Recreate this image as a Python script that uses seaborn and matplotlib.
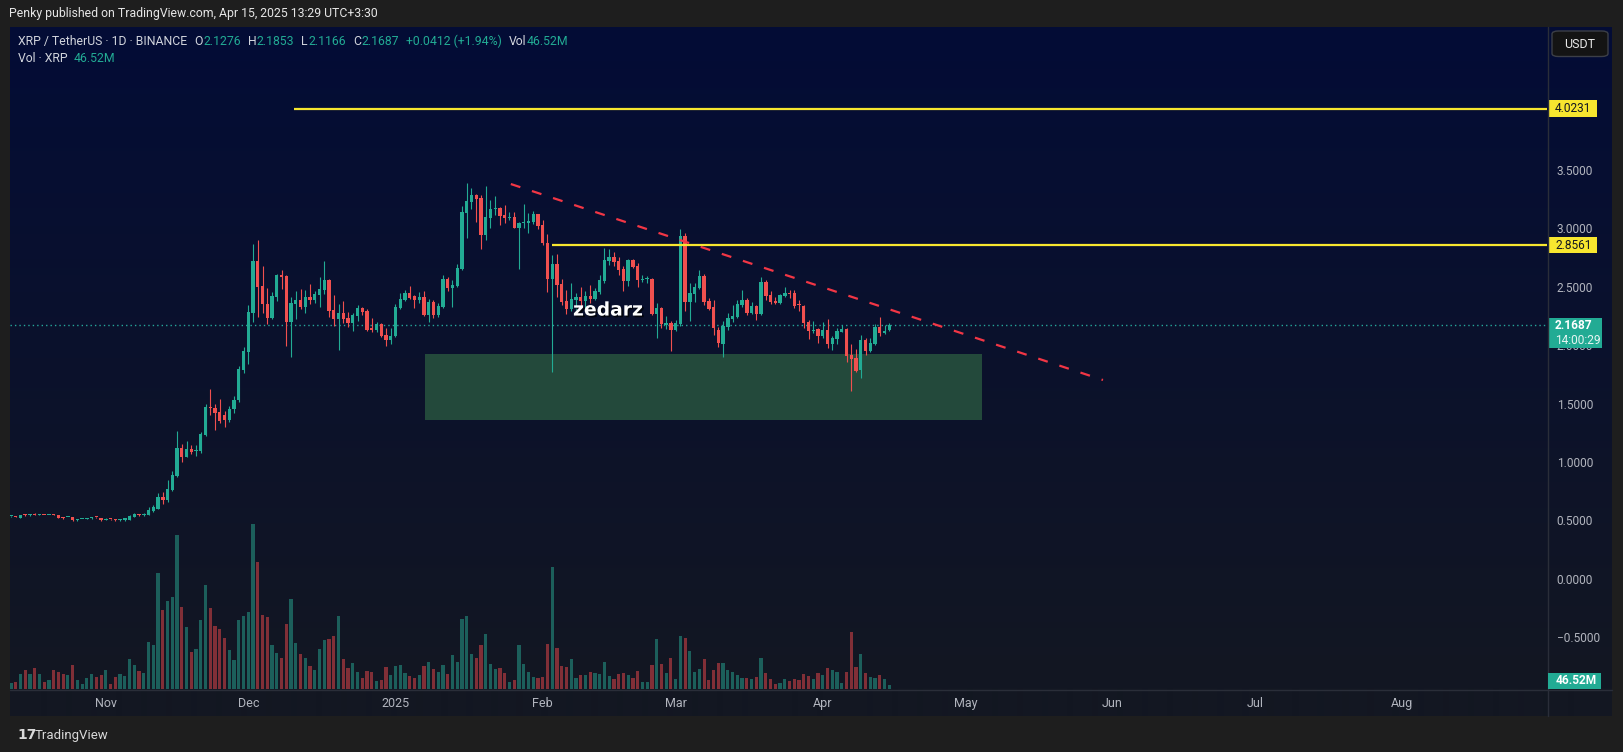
import numpy as np
import pandas as pd
import matplotlib
matplotlib.use("Agg")
import matplotlib.pyplot as plt
import matplotlib.dates as mdates
import matplotlib.transforms as mtransforms
from matplotlib.patches import Rectangle, FancyBboxPatch
from matplotlib.lines import Line2D
import matplotlib.patheffects as pe
import seaborn as sns

# ---------------- data ----------------
first_day = "2024-10-12"
last_day = "2025-04-15"

opens = [
    .535, .537, .522, .548, .543, .549, .545, .547, .545, .548,
    .546, .528, .527, .528, .500, .509, .514, .516, .528, .522,
    .506, .510, .510, .500, .500, .505, .528, .552, .545, .548,
    .580, .600, .702, .674, .759, .879, 1.119, 1.045, 1.110, 1.090,
    1.094, 1.230, 1.470, 1.460, 1.427, 1.400, 1.360, 1.450, 1.530, 1.787,
    1.944, 2.278, 2.720, 2.506, 2.352, 2.235, 2.415, 2.600, 2.591, 2.200,
    2.352, 2.386, 2.329, 2.412, 2.386, 2.429, 2.472, 2.557, 2.300, 2.224,
    2.275, 2.232, 2.190, 2.249, 2.318, 2.292, 2.146, 2.129, 2.180, 2.087,
    2.044, 2.078, 2.318, 2.386, 2.446, 2.420, 2.386, 2.412, 2.258, 2.369,
    2.258, 2.326, 2.566, 2.489, 2.506, 2.652, 3.130, 3.225, 3.285, 3.259,
    2.943, 3.090, 3.165, 3.173, 3.114, 3.090, 3.097, 3.002, 3.045, 3.045,
    3.054, 3.122, 3.030, 2.874, 2.566, 2.694, 2.523, 2.377, 2.309, 2.386,
    2.411, 2.377, 2.417, 2.394, 2.454, 2.551, 2.720, 2.754, 2.720, 2.651,
    2.548, 2.729, 2.677, 2.560, 2.565, 2.566, 2.266, 2.318, 2.176, 2.189,
    2.129, 2.180, 2.934, 2.372, 2.437, 2.489, 2.591, 2.377, 2.330, 2.129,
    2.009, 2.152, 2.223, 2.240, 2.343, 2.386, 2.275, 2.335, 2.266, 2.540,
    2.429, 2.378, 2.360, 2.420, 2.446, 2.446, 2.346, 2.335, 2.197, 2.120,
    2.138, 2.078, 2.129, 2.009, 2.052, 2.112, 2.138, 1.915, 1.889, 1.787,
    2.044, 1.950, 2.009, 2.155, 2.104, 2.1276,
]
highs = [
    .540, .540, .548, .555, .553, .560, .553, .549, .548, .553,
    .547, .529, .530, .529, .512, .513, .518, .530, .529, .523,
    .516, .511, .512, .510, .520, .545, .566, .553, .561, .614,
    .630, .733, .742, .845, .922, 1.265, 1.152, 1.180, 1.145, 1.145,
    1.256, 1.500, 1.624, 1.500, 1.540, 1.440, 1.480, 1.560, 1.820, 1.980,
    2.343, 2.866, 2.900, 2.677, 2.486, 2.454, 2.608, 2.643, 2.600, 2.412,
    2.463, 2.480, 2.469, 2.523, 2.463, 2.583, 2.720, 2.566, 2.429, 2.352,
    2.378, 2.284, 2.275, 2.343, 2.327, 2.309, 2.232, 2.198, 2.189, 2.146,
    2.146, 2.352, 2.446, 2.472, 2.506, 2.429, 2.454, 2.463, 2.395, 2.386,
    2.360, 2.600, 2.583, 2.557, 2.694, 3.190, 3.388, 3.345, 3.293, 3.285,
    3.362, 3.242, 3.276, 3.182, 3.199, 3.139, 3.139, 3.054, 3.208, 3.131,
    3.148, 3.122, 3.070, 2.955, 2.770, 2.780, 2.566, 2.470, 2.528, 2.450,
    2.500, 2.460, 2.514, 2.490, 2.600, 2.828, 2.820, 2.800, 2.757, 2.677,
    2.737, 2.740, 2.706, 2.600, 2.590, 2.572, 2.358, 2.330, 2.249, 2.206,
    2.215, 2.994, 2.963, 2.528, 2.530, 2.643, 2.609, 2.400, 2.386, 2.157,
    2.206, 2.275, 2.343, 2.386, 2.472, 2.403, 2.369, 2.340, 2.583, 2.557,
    2.463, 2.412, 2.437, 2.497, 2.472, 2.472, 2.386, 2.340, 2.215, 2.206,
    2.146, 2.197, 2.223, 2.078, 2.146, 2.172, 2.146, 2.009, 1.966, 2.087,
    2.060, 2.060, 2.180, 2.240, 2.172, 2.1853,
]
lows = [
    .532, .525, .520, .535, .540, .543, .543, .543, .543, .543,
    .520, .513, .525, .490, .497, .507, .512, .514, .523, .498,
    .504, .506, .490, .498, .498, .503, .526, .536, .540, .545,
    .574, .595, .640, .660, .750, .870, 1.002, 1.040, 1.067, 1.053,
    1.080, 1.225, 1.400, 1.270, 1.330, 1.300, 1.340, 1.420, 1.510, 1.765,
    1.838, 2.198, 2.243, 2.278, 2.178, 2.221, 2.380, 2.480, 1.995, 1.900,
    2.227, 2.306, 2.278, 2.352, 2.363, 2.329, 2.440, 2.243, 2.164, 1.958,
    2.190, 2.155, 2.121, 2.207, 2.258, 2.121, 2.112, 2.112, 2.069, 1.992,
    2.009, 2.070, 2.310, 2.380, 2.395, 2.318, 2.361, 2.249, 2.198, 2.232,
    2.240, 2.318, 2.463, 2.326, 2.500, 2.643, 2.917, 3.165, 3.054, 2.823,
    2.900, 3.002, 3.114, 3.028, 3.045, 3.071, 3.000, 2.652, 3.000, 2.960,
    3.036, 2.994, 2.860, 2.455, 1.770, 2.415, 2.343, 2.270, 2.290, 2.300,
    2.330, 2.300, 2.357, 2.390, 2.440, 2.528, 2.685, 2.680, 2.600, 2.466,
    2.505, 2.660, 2.500, 2.540, 2.530, 2.257, 2.064, 2.143, 2.137, 1.952,
    2.120, 2.163, 2.290, 2.210, 2.372, 2.480, 2.343, 2.300, 2.084, 1.987,
    1.900, 2.130, 2.197, 2.232, 2.330, 2.258, 2.266, 2.215, 2.258, 2.386,
    2.350, 2.350, 2.350, 2.410, 2.403, 2.318, 2.290, 2.146, 2.052, 2.103,
    2.018, 2.060, 1.975, 1.958, 2.009, 2.110, 1.855, 1.610, 1.769, 1.720,
    1.915, 1.941, 2.000, 2.078, 2.095, 2.1166,
]
closes = [
    .537, .530, .545, .543, .548, .545, .548, .545, .546, .545,
    .522, .522, .529, .500, .510, .511, .516, .528, .525, .500,
    .511, .508, .503, .505, .517, .540, .552, .545, .552, .590,
    .614, .700, .674, .768, .887, 1.119, 1.043, 1.110, 1.085, 1.100,
    1.240, 1.470, 1.460, 1.420, 1.350, 1.360, 1.450, 1.530, 1.795, 1.950,
    2.283, 2.720, 2.500, 2.349, 2.235, 2.420, 2.600, 2.586, 2.200, 2.357,
    2.386, 2.329, 2.412, 2.386, 2.435, 2.480, 2.557, 2.290, 2.224, 2.275,
    2.224, 2.190, 2.258, 2.318, 2.283, 2.129, 2.129, 2.180, 2.078, 2.044,
    2.078, 2.326, 2.395, 2.446, 2.403, 2.386, 2.412, 2.258, 2.369, 2.258,
    2.335, 2.566, 2.489, 2.515, 2.660, 3.140, 3.233, 3.285, 3.250, 2.943,
    3.096, 3.165, 3.173, 3.105, 3.088, 3.097, 3.002, 3.045, 3.054, 3.063,
    3.122, 3.019, 2.870, 2.566, 2.694, 2.515, 2.372, 2.309, 2.394, 2.411,
    2.380, 2.417, 2.394, 2.463, 2.557, 2.729, 2.754, 2.711, 2.643, 2.548,
    2.729, 2.672, 2.557, 2.568, 2.572, 2.266, 2.318, 2.180, 2.184, 2.129,
    2.189, 2.934, 2.372, 2.446, 2.497, 2.591, 2.372, 2.309, 2.150, 2.015,
    2.164, 2.232, 2.249, 2.352, 2.386, 2.275, 2.335, 2.266, 2.540, 2.420,
    2.369, 2.360, 2.429, 2.446, 2.440, 2.335, 2.340, 2.189, 2.120, 2.130,
    2.078, 2.129, 2.009, 2.060, 2.120, 2.138, 1.907, 1.881, 1.778, 2.044,
    1.950, 2.018, 2.155, 2.104, 2.120, 2.1687,
]
volumes_m = [
    70, 81, 174, 220, 174, 244, 174, 81, 104, 220,
    197, 174, 162, 278, 104, 58, 128, 174, 139, 162,
    220, 58, 139, 174, 151, 348, 278, 209, 186, 545,
    510, 1346, 916, 1021, 1067, 1786, 951, 719, 429, 464,
    800, 1206, 940, 731, 696, 592, 452, 336, 800, 847,
    893, 1914, 1473, 858, 835, 510, 418, 360, 754, 1044,
    534, 406, 360, 267, 220, 464, 568, 580, 615, 847,
    348, 244, 302, 197, 128, 209, 197, 93, 104, 255,
    162, 267, 278, 186, 151, 128, 162, 267, 313, 232,
    197, 278, 174, 394, 313, 812, 847, 406, 360, 510,
    638, 290, 232, 244, 186, 81, 104, 510, 290, 197,
    139, 128, 139, 522, 1415, 476, 267, 255, 348, 128,
    162, 162, 197, 186, 174, 313, 151, 116, 174, 186,
    162, 128, 209, 81, 81, 278, 580, 290, 186, 360,
    116, 615, 592, 441, 197, 232, 348, 104, 220, 302,
    302, 220, 197, 162, 128, 128, 116, 139, 360, 186,
    116, 58, 70, 116, 93, 116, 104, 174, 151, 116,
    186, 162, 244, 220, 197, 70, 197, 661, 255, 406,
    186, 139, 128, 162, 116, 46.52,
]

price_ticks = [-0.5, 0.0, 0.5, 1.0, 1.5, 2.0, 2.5, 3.0, 3.5]
price_tick_labels = ["\u22120.5000", "0.0000", "0.5000", "1.0000", "1.5000",
                     "2.0000", "2.5000", "3.0000", "3.5000"]
month_dates = ["2024-11-01", "2024-12-01", "2025-01-01", "2025-02-01", "2025-03-01",
               "2025-04-01", "2025-05-01", "2025-06-01", "2025-07-01", "2025-08-01"]
month_labels = ["Nov", "Dec", "2025", "Feb", "Mar", "Apr", "May", "Jun", "Jul", "Aug"]

level_prices = [4.0231, 2.8561]
level_labels = ["4.0231", "2.8561"]
level_starts = ["2024-12-10 14:00", "2025-02-03 00:00"]

trend_dates = ["2025-01-25 07:00", "2025-05-30 00:00"]
trend_prices = [3.379, 1.701]

zone_dates = ["2025-01-07 05:00", "2025-05-04 12:00"]
zone_prices = [1.359, 1.924]

last_price = 2.1687
last_price_label = "2.1687"
countdown_label = "14:00:29"
last_volume_label = "46.52M"

watermark = "zedarz"
watermark_pos = ("2025-02-14 19:00", 2.30)

header_top = "Penky published on TradingView.com, Apr 15, 2025 13:29 UTC+3:30"
header_symbol = "XRP / TetherUS \u00b7 1D \u00b7 BINANCE"
ohlc_names = ["O", "H", "L", "C"]
ohlc_values = ["2.1276", "2.1853", "2.1166", "2.1687"]
change_label = "+0.0412 (+1.94%)"
vol_name = "Vol"
vol_value = "46.52M"
vol_series = "Vol \u00b7 XRP"

# ---------------- style ----------------
sns.set_theme(style="dark")
plt.rcParams['font.family'] = ['Roboto', 'DejaVu Sans']

FRAME = '#1e1e1e'
UP = '#22ab94'
DOWN = '#f0504f'
VOL_UP = '#1c5f5b'
VOL_DOWN = '#812f37'
AXTXT = '#b2b5be'
HEAD = '#d1d4dc'
YELLOW = '#f7e62f'

W, H = 1623, 752
fig = plt.figure(figsize=(W / 100, H / 100), dpi=100, facecolor=FRAME)


def fx(px):
    return px / W


def fy(py):
    return 1 - py / H


# background gradient panel
bg = fig.add_axes([fx(10), fy(716), (1612 - 10) / W, (716 - 27) / H])
top_c = np.array([3, 12, 54]) / 255.0
bot_c = np.array([19, 23, 34]) / 255.0
t = np.linspace(0, 1, 662)[:, None]
grad = top_c * (1 - t) + bot_c * t
grad = np.vstack([grad, np.repeat(bot_c[None, :], 27, axis=0)])
bg.imshow(grad[:, None, :], aspect='auto', extent=[0, 1, 0, 1], interpolation='bilinear')
bg.axis('off')
bg.set_zorder(0)

pos = [fx(10), fy(689), 1537 / W, 662 / H]
vax = fig.add_axes(pos)
ax = fig.add_axes(pos)
vax.set_zorder(1)
ax.set_zorder(2)
for a in (ax, vax):
    a.set_facecolor('none')
    a.patch.set_visible(False)
    for s in a.spines.values():
        s.set_visible(False)
    a.grid(False)

dates = pd.date_range(first_day, last_day, freq="D")
x = mdates.date2num(dates)
o = np.array(opens)
h = np.array(highs)
l = np.array(lows)
c = np.array(closes)
v = np.array(volumes_m)
up = c >= o
cols = np.where(up, UP, DOWN)
vcols = np.where(up, VOL_UP, VOL_DOWN)

base = mdates.date2num(pd.Timestamp("2024-12-01"))
xlim = (base - 50.19, base + 273.52)

# volume
vax.bar(x, v, width=0.68, color=vcols, linewidth=0, zorder=2)
vax.set_xlim(*xlim)
vax.set_ylim(0, 662 * 11.6)
vax.axis('off')

# zone
z0, z1 = mdates.date2num(pd.to_datetime(zone_dates))
ax.add_patch(Rectangle((z0, zone_prices[0]), z1 - z0, zone_prices[1] - zone_prices[0],
                       facecolor='#23493b', edgecolor='none', zorder=1))

# candles
ax.vlines(x, l, h, colors=cols, linewidth=0.8, zorder=3)
body_low = np.minimum(o, c)
body_h = np.maximum(np.abs(c - o), 0.009)
ax.bar(x, body_h, bottom=body_low, width=0.7, color=cols, linewidth=0, zorder=4)

# current price dotted line
ax.axhline(last_price, color='#26a69a', linewidth=1.0, linestyle=(0, (1, 2.2)), zorder=2)

# horizontal levels
for lp, ls_ in zip(level_prices, level_starts):
    xs = mdates.date2num(pd.Timestamp(ls_))
    ax.hlines(lp, xs, xlim[1], colors=YELLOW, linewidth=1.6, zorder=6)

# trendline via seaborn
tx = mdates.date2num(pd.to_datetime(trend_dates))
sns.lineplot(x=tx, y=trend_prices, ax=ax, color='#f23645', linewidth=1.6,
             linestyle=(0, (4.5, 5.5)), zorder=6)

# watermark
ax.text(mdates.date2num(pd.Timestamp(watermark_pos[0])), watermark_pos[1], watermark,
        color='white', fontsize=13.5, fontweight='bold', family='DejaVu Sans',
        ha='center', va='center', zorder=8,
        path_effects=[pe.withSimplePatchShadow(offset=(1.2, -1.2), shadow_rgbFace='black', alpha=0.7)])

ax.set_xlim(*xlim)
ax.set_ylim((578.7 - 689) / 116.8, (578.7 - 27) / 116.8)
ax.set_xlabel('')
ax.set_ylabel('')

# axes ticks
ax.set_xticks(mdates.date2num(pd.to_datetime(month_dates)))
ax.set_xticklabels(month_labels)
ax.tick_params(axis='x', length=0, pad=6, labelsize=9, labelcolor=AXTXT)
ax.yaxis.tick_right()
ax.set_yticks(price_ticks)
ax.set_yticklabels(price_tick_labels)
ax.tick_params(axis='y', length=0, pad=7, labelsize=8.6, labelcolor=AXTXT)

# right-axis labels
trans = mtransforms.blended_transform_factory(ax.transAxes, ax.transData)
px_w = 1 / 1537.0
px_p = 1 / 116.8
for lp, lab in zip(level_prices, level_labels):
    ax.add_patch(Rectangle((1 + 1 * px_w, lp - 8 * px_p), 49 * px_w, 16.4 * px_p, transform=trans,
                           facecolor=YELLOW, edgecolor='none', clip_on=False, zorder=10))
    ax.text(1 + 8 * px_w, lp, lab, transform=trans, ha='left', va='center', color='#131722',
            fontsize=8.6, clip_on=False, zorder=11)

ax.add_patch(Rectangle((1 + 1 * px_w, last_price - 23 * px_p), 54 * px_w, 30.6 * px_p, transform=trans,
                       facecolor='#22ab94', edgecolor='none', clip_on=False, zorder=10))
ax.text(1 + 8 * px_w, last_price - 0.5 * px_p, last_price_label, transform=trans, ha='left', va='center',
        color='white', fontsize=8.6, fontweight='bold', clip_on=False, zorder=11)
ax.text(1 + 8 * px_w, last_price - 15.5 * px_p, countdown_label, transform=trans, ha='left', va='center',
        color='#e6f5f2', fontsize=8.6, clip_on=False, zorder=11)

# volume label (figure pixels)
fig.add_artist(Rectangle((fx(1548), fy(688.7)), 53 / W, 15.4 / H, transform=fig.transFigure,
                         facecolor='#22ab94', edgecolor='none', zorder=10))
fig.text(fx(1556), fy(681), last_volume_label, color='white', fontsize=8.6, fontweight='bold',
         ha='left', va='center', zorder=11)

# USDT button
fig.add_artist(FancyBboxPatch((fx(1552), fy(56.5)), 56 / W, 25.5 / H,
                              boxstyle='round,pad=0,rounding_size=0.004',
                              transform=fig.transFigure, facecolor='#141414', edgecolor='#3c3f47',
                              linewidth=1, zorder=10))
fig.text(fx(1580), fy(44), "USDT", color='#e8e8e8', fontsize=9, ha='center', va='center', zorder=11)

# separators
sep = '#2a2e39'
fig.add_artist(Line2D([fx(1547.5), fx(1547.5)], [fy(27), fy(716)], transform=fig.transFigure,
                      color=sep, linewidth=1, zorder=5))
fig.add_artist(Line2D([fx(10), fx(1612)], [fy(689.5), fy(689.5)], transform=fig.transFigure,
                      color=sep, linewidth=1, zorder=5))

# header texts, laid out one after another
renderer = fig.canvas.get_renderer()


def run_text(x0, y, parts, size):
    xp = x0
    for s, col, gap in parts:
        tt = fig.text(fx(xp), fy(y), s, color=col, fontsize=size, ha='left', va='center', zorder=12)
        bb = tt.get_window_extent(renderer)
        xp += bb.width + gap


fig.text(fx(9), fy(13.5), header_top, color='#e6e6e6', fontsize=8.8, ha='left', va='center')
parts1 = [(header_symbol, HEAD, 7)]
for nm, vl in zip(ohlc_names, ohlc_values):
    parts1.append((nm, HEAD, 0.5))
    parts1.append((vl, UP, 7))
parts1.append((change_label, UP, 7))
parts1.append((vol_name, HEAD, 0.5))
parts1.append((vol_value, UP, 0))
run_text(18, 41.5, parts1, 8.8)
run_text(18, 58, [(vol_series, HEAD, 6), (vol_value, UP, 0)], 8.8)

# footer
fig.text(fx(17), fy(735), "17", color='#d9d9d9', fontsize=10, fontweight='bold', family='DejaVu Sans',
         ha='left', va='center')
fig.text(fx(35), fy(735), "TradingView", color='#d9d9d9', fontsize=9.5, ha='left', va='center')

fig.savefig("out.png", dpi=100, facecolor=FRAME)
